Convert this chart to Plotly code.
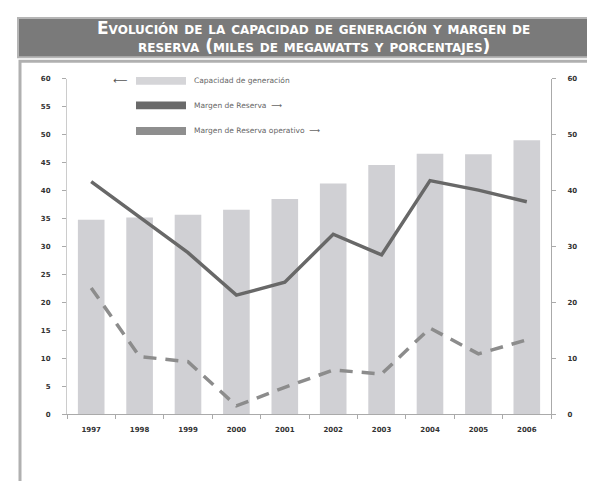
import plotly.graph_objects as go

years = ["1997", "1998", "1999", "2000", "2001", "2002", "2003", "2004", "2005", "2006"]
capacidad = [34.8, 35.2, 35.7, 36.6, 38.5, 41.3, 44.6, 46.6, 46.5, 49.0]
margen_reserva = [41.6, 35.3, 28.9, 21.3, 23.6, 32.2, 28.5, 41.8, 40.1, 38.0]
margen_operativo = [22.6, 10.3, 9.4, 1.5, 4.8, 7.9, 7.2, 15.4, 10.8, 13.3]
left_ticks = [0, 5, 10, 15, 20, 25, 30, 35, 40, 45, 50, 55, 60]
right_ticks = [0, 10, 20, 30, 40, 50, 60]
title_lines = ["Evolución de la capacidad de generación y margen de",
               "reserva (miles de megawatts y porcentajes)"]

W, H = 595, 481
def px(x):
    return x / W
def py(y):
    return 1 - y / H

fig = go.Figure()
fig.add_trace(go.Bar(x=years, y=capacidad, marker=dict(color="#d0d0d4", line=dict(width=0)),
                     width=0.55, name="Capacidad de generación", yaxis="y"))
fig.add_trace(go.Scatter(x=years, y=margen_reserva, mode="lines", yaxis="y2",
                         line=dict(color="#686868", width=3.5), name="Margen de Reserva"))
fig.add_trace(go.Scatter(x=years, y=margen_operativo, mode="lines", yaxis="y2",
                         line=dict(color="#8c8c8c", width=3.5, dash="13px,9px"),
                         name="Margen de Reserva operativo"))

tickfont = dict(family="DejaVu Sans", size=7, color="#333", weight="bold")
fig.update_layout(
    width=W, height=H, autosize=False,
    margin=dict(l=0, r=0, t=0, b=0),
    paper_bgcolor="white", plot_bgcolor="white",
    showlegend=False,
    xaxis=dict(domain=[px(59), px(543)], type="category", tickson="boundaries",
               ticks="outside", ticklen=4, tickcolor="#aaa", showline=True,
               linecolor="#aaa", linewidth=1, tickfont=tickfont, showgrid=False,
               ticklabelstandoff=8),
    yaxis=dict(domain=[py(409), py(68)], range=[0, 60], tickvals=left_ticks,
               ticks="outside", ticklen=4, tickcolor="#aaa", showline=True,
               linecolor="#ccc", linewidth=1, tickfont=tickfont, showgrid=False,
               zeroline=False, ticklabelstandoff=10),
    yaxis2=dict(overlaying="y", side="right", range=[0, 60], tickvals=right_ticks,
                ticks="outside", ticklen=4, tickcolor="#aaa", showline=True,
                linecolor="#aaa", linewidth=1, tickfont=tickfont, showgrid=False,
                zeroline=False, ticklabelstandoff=10, anchor="x"),
)

shapes = []
# title banner
shapes.append(dict(type="rect", xref="paper", yref="paper", x0=px(10), x1=px(600),
                   y0=py(46), y1=py(6), fillcolor="#7a7a7a",
                   line=dict(color="#b5b5b5", width=2), layer="below"))
# frame
shapes.append(dict(type="rect", xref="paper", yref="paper", x0=px(12), x1=px(610),
                   y0=py(500), y1=py(50), fillcolor="rgba(0,0,0,0)",
                   line=dict(color="#b0b0b0", width=3), layer="below"))
# legend swatches
legend_rows = [(70, "#d5d5d8", "Capacidad de generación", ""),
               (95, "#6a6a6a", "Margen de Reserva", "  ⟶"),
               (121, "#8e8e8e", "Margen de Reserva operativo", "  ⟶")]
annotations = []
for yc, col, label, arrow in legend_rows:
    shapes.append(dict(type="rect", xref="paper", yref="paper", x0=px(128), x1=px(178),
                       y0=py(yc + 4), y1=py(yc - 4), fillcolor=col, line=dict(width=0)))
    annotations.append(dict(x=px(184), y=py(yc), xref="paper", yref="paper",
                            text=label + arrow, showarrow=False, xanchor="left",
                            yanchor="middle", font=dict(family="DejaVu Sans", size=7.5, color="#666")))
annotations.append(dict(x=px(112), y=py(70), xref="paper", yref="paper", text="⟵",
                        showarrow=False, xanchor="center", yanchor="middle",
                        font=dict(family="DejaVu Sans", size=10, color="#555")))
# title (two lines)
for i, line in enumerate(title_lines):
    annotations.append(dict(x=px(306), y=py(16 + 19 * i), xref="paper", yref="paper",
                            text="<b>" + line + "</b>",
                            showarrow=False, xanchor="center", yanchor="middle",
                            font=dict(family="DejaVu Sans", size=17, color="white",
                                      variant="small-caps")))
fig.update_layout(shapes=shapes, annotations=annotations)

fig.write_html("out.html")
